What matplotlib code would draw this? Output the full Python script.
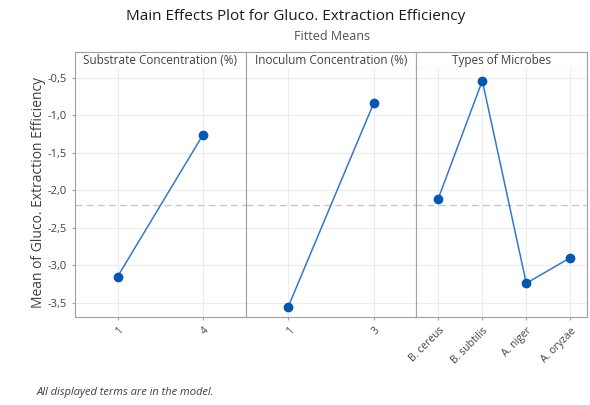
import matplotlib.pyplot as plt
import numpy as np

plt.rcParams['font.family'] = ['Open Sans', 'DejaVu Sans']

factors = ['Substrate Concentration (%)', 'Inoculum Concentration (%)', 'Types of Microbes']
substrate_levels = ['1', '4']
substrate_means = [-3.15, -1.26]
inoculum_levels = ['1', '3']
inoculum_means = [-3.55, -0.84]
microbe_levels = ['B. cereus', 'B. subtilis', 'A. niger', 'A. oryzae']
microbe_means = [-2.11, -0.54, -3.24, -2.90]
grand_mean = -2.20
y_ticks = [-0.5, -1.0, -1.5, -2.0, -2.5, -3.0, -3.5]

levels = [substrate_levels, inoculum_levels, microbe_levels]
means = [substrate_means, inoculum_means, microbe_means]

W, H = 590, 405
fig = plt.figure(figsize=(W / 100, H / 100), dpi=100)
gs = fig.add_gridspec(2, 3, height_ratios=[16, 249], hspace=0, wspace=0,
                      left=75 / W, right=587 / W, bottom=1 - 317 / H, top=1 - 52 / H)

edge = '#a0a0a0'
for i in range(3):
    hax = fig.add_subplot(gs[0, i])
    hax.set_xticks([])
    hax.set_yticks([])
    for s in hax.spines.values():
        s.set_color(edge)
    hax.text(0.5, 0.45, factors[i], ha='center', va='center', fontsize=8.5,
             color='#404040', transform=hax.transAxes)

    ax = fig.add_subplot(gs[1, i])
    x = np.arange(len(levels[i]))
    ax.plot(x, means[i], color='#3478cc', lw=1.1, marker='o', ms=6,
            mfc='#0058b0', mec='#0058b0', zorder=3)
    ax.axhline(grand_mean, color='#c8c8c8', ls=(0, (5, 3)), lw=1.0, zorder=1)
    if len(x) == 2:
        ax.set_xlim(-0.5, 1.5)
    else:
        ax.set_xlim(-0.5, 3.38)
    ax.set_ylim(-3.69, -0.37)
    ax.set_xticks(x)
    ax.set_xticklabels(levels[i], rotation=45, ha='right', rotation_mode='anchor',
                       fontsize=7.5, color='#404040')
    ax.set_yticks(y_ticks)
    if i == 0:
        ax.set_yticklabels([f'{v:.1f}'.replace('.', ',') for v in y_ticks],
                           fontsize=8, color='#404040')
        ax.set_ylabel('Mean of Gluco. Extraction Efficiency', fontsize=10,
                      color='#404040', labelpad=1)
    else:
        ax.tick_params(axis='y', left=False, labelleft=False)
    ax.tick_params(axis='both', length=2.5, color=edge)
    ax.grid(True, color='#ececec', lw=0.8, zorder=0)
    ax.set_axisbelow(True)
    for s in ax.spines.values():
        s.set_color(edge)
    ax.spines['top'].set_visible(False)

fig.text(296 / W, 1 - 17 / H, 'Main Effects Plot for Gluco. Extraction Efficiency',
         ha='center', va='center', fontsize=11, color='#1a1a1a')
fig.text(332 / W, 1 - 36 / H, 'Fitted Means', ha='center', va='center',
         fontsize=9, color='#505050')
fig.text(37 / W, 1 - 393 / H, 'All displayed terms are in the model.', ha='left',
         va='center', fontsize=8, style='italic', color='#404040')

fig.savefig('out.png', dpi=100)
